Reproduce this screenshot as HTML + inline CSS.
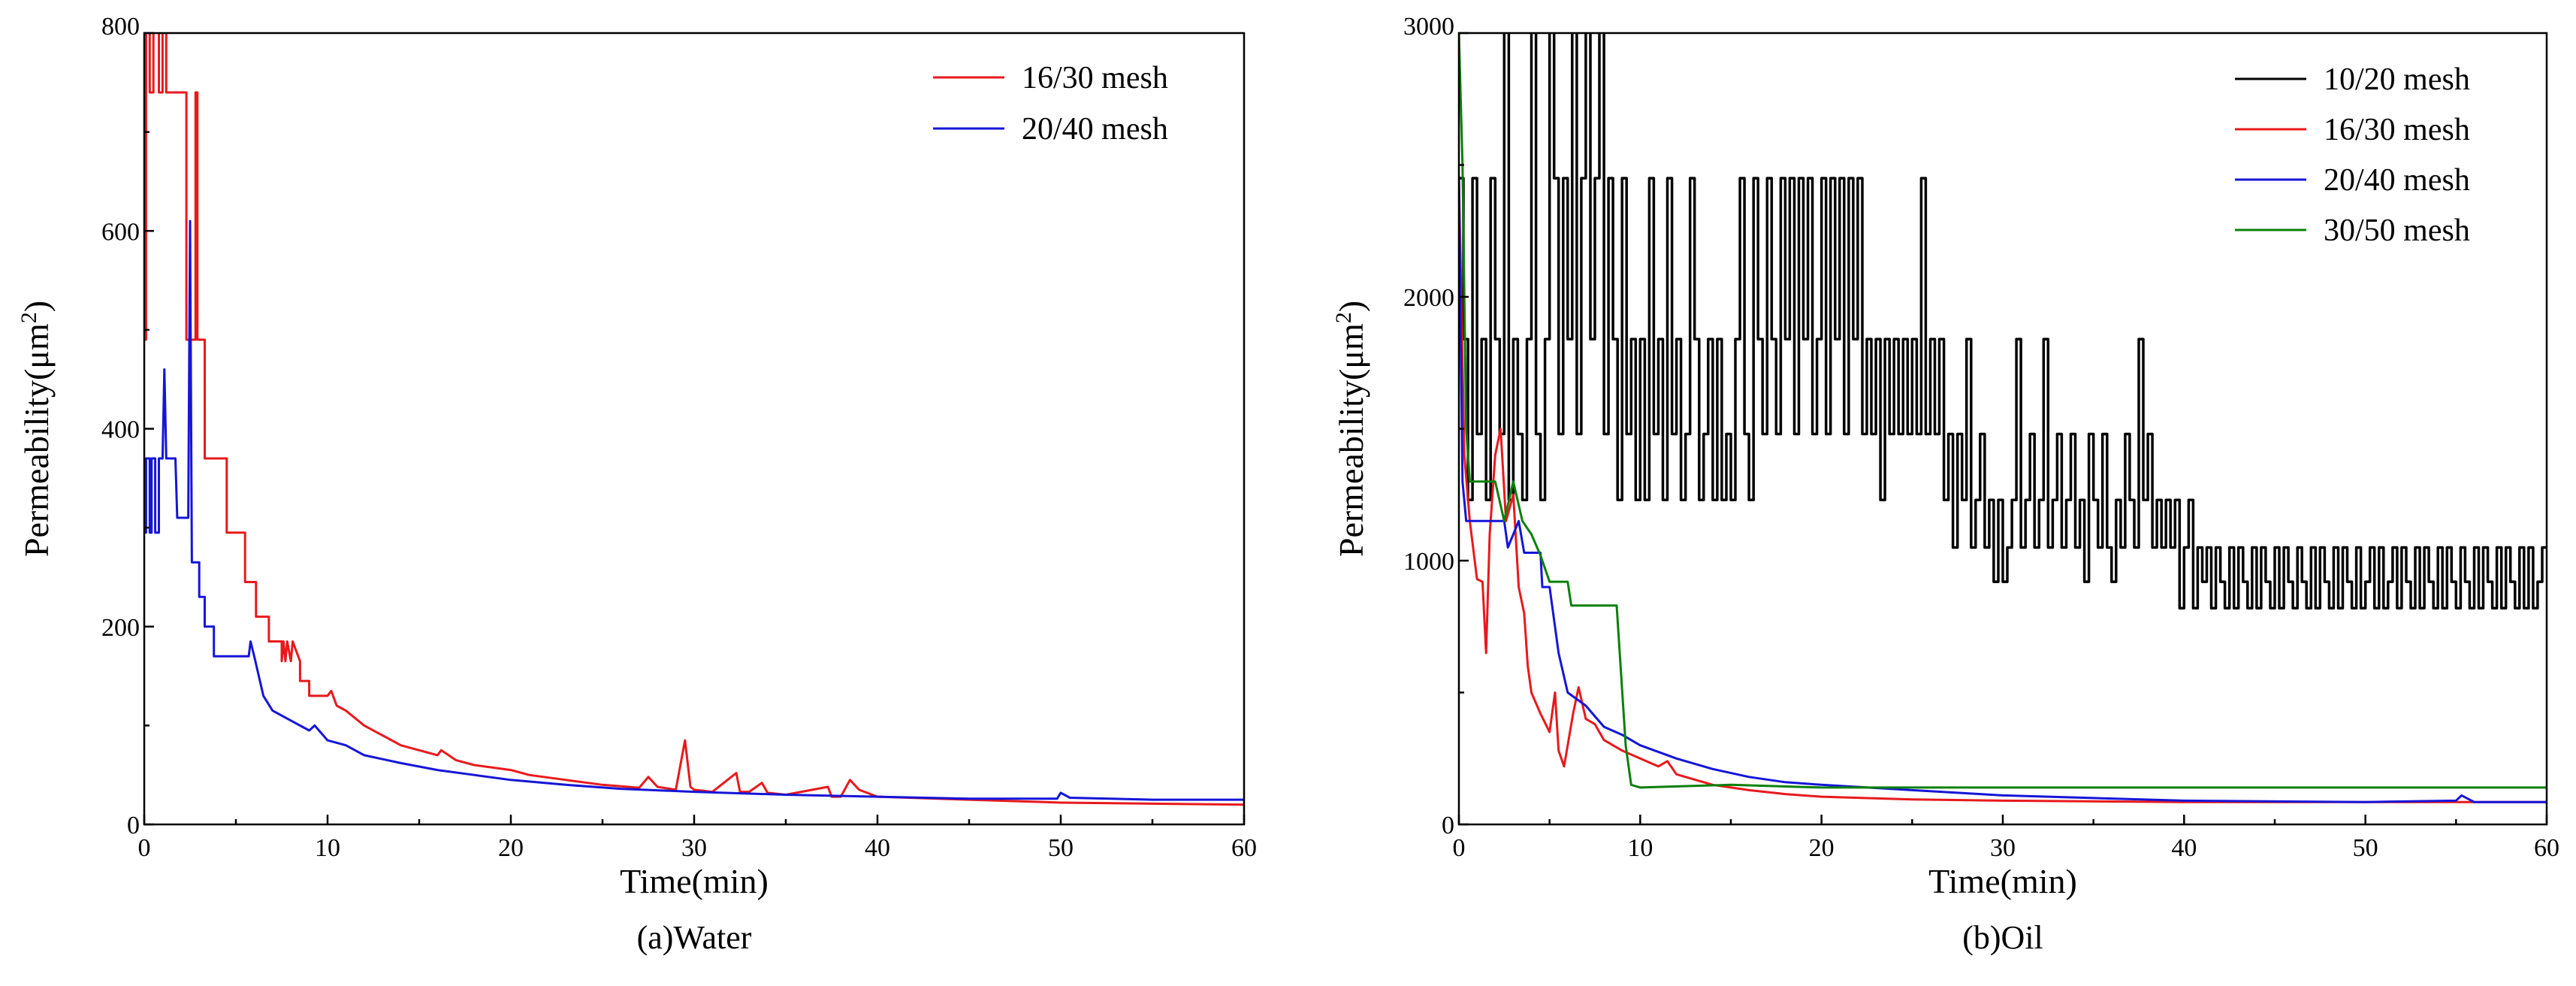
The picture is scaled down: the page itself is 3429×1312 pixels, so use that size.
<!DOCTYPE html>
<html><head><meta charset="utf-8"><style>
html,body{margin:0;padding:0;background:#fff;}
svg{display:block;font-family:"Liberation Serif",serif;}
</style></head>
<body>
<svg id="fig" width="3429" height="1312" viewBox="0 0 3429 1312" xmlns="http://www.w3.org/2000/svg">
<defs>
<clipPath id="clipA"><rect x="192" y="44" width="1464" height="1053"/></clipPath>
<clipPath id="clipB"><rect x="1942" y="44" width="1448" height="1053"/></clipPath>
</defs>
<g id="panelA"></g>
<g id="panelB"></g>
</svg>
<script>
// ---- Panel A (Water) data ----
const waterRedT = [0,0.1,0.1,0.3,0.3,0.5,0.5,0.8,0.8,1.0,1.0,1.2,1.2,2.3,2.3,2.8,2.8,2.9,2.9,3.3,3.3,4.5,4.5,5.5,5.5,6.1,6.1,6.8,6.8,7.5,7.5,7.6,7.7,7.8,8.0,8.1,8.5,8.5,9.0,9.0,10.0,10.2,10.5,11,12,13,14,15,16,16.2,17,18,20,21,23,25,27,27.5,28,29,29.5,29.8,30,31,32.3,32.5,33,33.7,34,35,37.3,37.5,38,38.5,39,40,45,50,55,60];
const waterRedV = [490,490,820,820,740,740,820,820,740,740,820,820,740,740,490,490,740,740,490,490,370,370,295,295,245,245,210,210,185,185,165,185,165,185,165,185,165,145,145,130,130,135,120,115,100,90,80,75,70,75,65,60,55,50,45,40,37,48,38,35,85,38,35,33,52,33,33,42,32,30,38,28,28,45,35,28,25,22,21,20];
const waterBlueT = [0,0.1,0.1,0.3,0.3,0.4,0.4,0.6,0.6,0.8,0.8,1.0,1.1,1.2,1.7,1.8,1.8,2.4,2.5,2.6,2.6,3.0,3.0,3.3,3.3,3.8,3.8,4.2,4.2,5.7,5.8,6.0,6.5,7,8,9,9.3,10,11,12,14,16,18,20,23,26,30,35,40,45,49.8,50,50.5,55,60];
const waterBlueV = [295,295,370,370,295,295,370,370,295,295,370,370,460,370,370,310,310,310,610,265,265,265,230,230,200,200,170,170,170,170,185,170,130,115,105,95,100,85,80,70,62,55,50,45,40,36,33,30,28,26,26,32,27,25,25];
const waterXTicks = [0,10,20,30,40,50,60];
const waterYTicks = [0,200,400,600,800];

// ---- Panel B (Oil) data ----
const oilBlack = [
2450,1840,1230,2450,1480,1840,1230,2450,1840,1480,3200,1230,1840,1480,1230,1840,3200,1480,1230,1840,
3200,2450,1480,2450,1840,3200,1480,2450,3200,1840,2450,3200,1480,2450,1840,1230,2450,1480,1840,1230,
1840,1230,2450,1480,1840,1230,2450,1480,1840,1230,1480,2450,1840,1230,1480,1840,1230,1840,1230,1480,
1230,1840,2450,1480,1230,2450,1840,1480,2450,1840,1480,2450,1840,2450,1480,2450,1840,2450,1480,1840,
2450,1480,2450,1840,2450,1480,2450,1840,2450,1480,1840,1480,1840,1230,1840,1480,1840,1480,1840,1480,
1840,1480,2450,1480,1840,1480,1840,1230,1480,1050,1480,1230,1840,1050,1230,1480,1050,1230,920,1230,
920,1050,1230,1840,1050,1230,1480,1050,1230,1840,1050,1230,1480,1050,1230,1480,1050,1230,920,1480,
1230,1050,1480,1050,920,1230,1050,1480,1230,1050,1840,1230,1480,1050,1230,1050,1230,1050,1230,820,
1050,1230,820,1050,920,1050,820,1050,920,820,1050,820,1050,920,820,1050,820,1050,920,820,
1050,820,1050,920,820,1050,920,820,1050,820,1050,920,820,1050,820,1050,920,820,1050,820,
920,1050,820,1050,820,920,1050,820,1050,920,820,1050,820,1050,920,820,1050,820,1050,920,
820,1050,920,820,1050,820,1050,920,820,1050,820,1050,920,820,1050,820,1050,820,920,1050,1050];
const oilBlackStep = 0.25;
const oilRedT = [0,0.3,0.6,1,1.3,1.5,1.7,2,2.3,2.6,3,3.3,3.6,3.8,4,4.5,5,5.3,5.5,5.8,6,6.3,6.6,7,7.5,8,8.5,9,10,11,11.5,12,13,14,16,18,20,25,30,40,50,60];
const oilRedV = [2450,1400,1150,930,920,650,1100,1400,1500,1150,1250,900,800,600,500,420,350,500,280,220,300,420,520,400,380,320,300,280,250,220,240,190,170,150,130,115,105,95,90,85,85,85];
const oilBlueT = [0,0.2,0.4,2.5,2.7,3.3,3.6,4.5,4.6,5,5.2,5.5,6,7,8,9,10,12,14,16,18,20,25,30,35,40,50,55,55.3,56,60];
const oilBlueV = [2450,1300,1150,1150,1050,1150,1030,1030,900,900,800,650,500,450,370,340,300,250,210,180,160,150,130,110,100,90,85,90,110,85,85];
const oilGreenT = [0,0.2,0.4,0.6,2,2.5,3,3.5,4,4.5,5,6,6.2,8.7,9.2,9.5,10,15,20,30,60];
const oilGreenV = [3000,2500,1500,1300,1300,1150,1300,1150,1100,1020,920,920,830,830,300,150,140,150,140,140,140];
const oilXTicks = [0,10,20,30,40,50,60];
const oilYTicks = [0,1000,2000,3000];

const NS = "http://www.w3.org/2000/svg";
function mk(tag, attrs, parent){const e=document.createElementNS(NS,tag);for(const k in attrs)e.setAttribute(k,attrs[k]);parent.appendChild(e);return e;}

function buildPanel(g, cfg){
  const sx = v => cfg.x0 + (v - 0) / 60 * (cfg.x1 - cfg.x0);
  const sy = v => cfg.yb - v / cfg.ymax * (cfg.yb - cfg.yt);
  const sg = mk('g', {'clip-path':'url(#'+cfg.clip+')'}, g);
  
  
  cfg.series.forEach(s => {
    let pts = [];
    if (s.step) {
      for (let i=0;i<s.v.length;i++){
        const t0=i*s.step, t1=(i+1)*s.step;
        pts.push(sx(Math.min(t0,60)).toFixed(1)+','+sy(s.v[i]).toFixed(1));
        pts.push(sx(Math.min(t1,60)).toFixed(1)+','+sy(s.v[i]).toFixed(1));
      }
    } else {
      for (let i=0;i<s.t.length;i++) pts.push(sx(s.t[i]).toFixed(1)+','+sy(s.v[i]).toFixed(1));
    }
    const p = mk('polyline', {points: pts.join(' '), fill:'none', stroke:s.color, 'stroke-width':s.w||3, 'stroke-linejoin':'round'}, sg);
    
    
  });
  const fr = mk('rect', {x:cfg.x0, y:cfg.yt, width:cfg.x1-cfg.x0, height:cfg.yb-cfg.yt, fill:'none', stroke:'#000', 'stroke-width':2.5}, g);
  
  
  cfg.xt.forEach((v,i) => {
    mk('line', {x1:sx(v), x2:sx(v), y1:cfg.yb, y2:cfg.yb-13, stroke:'#000','stroke-width':2.5}, g);
    if (i < cfg.xt.length-1) { const m=(v+cfg.xt[i+1])/2; mk('line', {x1:sx(m), x2:sx(m), y1:cfg.yb, y2:cfg.yb-7, stroke:'#000','stroke-width':2.5}, g); }
    const tx = mk('text', {x:sx(v), y:cfg.yb+42, 'font-size':34, 'text-anchor':'middle'}, g);
    tx.textContent = v;
    
    
  });
  cfg.yticks.forEach((v,i) => {
    mk('line', {x1:cfg.x0, x2:cfg.x0+13, y1:sy(v), y2:sy(v), stroke:'#000','stroke-width':2.5}, g);
    if (i < cfg.yticks.length-1) { const m=(v+cfg.yticks[i+1])/2; mk('line', {x1:cfg.x0, x2:cfg.x0+7, y1:sy(m), y2:sy(m), stroke:'#000','stroke-width':2.5}, g); }
    const ty = mk('text', {x:cfg.x0-6, y:sy(v)+(v===cfg.ymax?2:12), 'font-size':34, 'text-anchor':'end'}, g);
    ty.textContent = v;
    
    
  });
  const xt = mk('text', {x:(cfg.x0+cfg.x1)/2, y:1188, 'font-size':46, 'text-anchor':'middle'}, g);
  xt.textContent = 'Time(min)';
  
  
  const cap = mk('text', {x:(cfg.x0+cfg.x1)/2, y:1262, 'font-size':44, 'text-anchor':'middle'}, g);
  cap.textContent = cfg.caption;
  
  
  const yt = mk('text', {x:0, y:0, 'font-size':46, 'text-anchor':'middle', transform:'translate('+(cfg.x0-128)+','+((cfg.yt+cfg.yb)/2)+') rotate(-90)'}, g);
  yt.innerHTML = 'Permeability(μm<tspan baseline-shift="super" font-size="30">2</tspan>)';
  
  
  cfg.series.forEach((s,i) => {
    const y = cfg.legY + i*cfg.legDy;
    const lg = mk('g', {}, g);
    
    
    mk('line', {x1:cfg.legX, x2:cfg.legX+95, y1:y, y2:y, stroke:s.color, 'stroke-width':3}, lg);
    const lt = mk('text', {x:cfg.legX+118, y:y+14, 'font-size':42}, lg);
    lt.textContent = s.label;
  });
}

buildPanel(document.getElementById('panelA'), {
  prefix:'water', x0:192, x1:1656, yt:44, yb:1097, ymax:800, clip:'clipA',
  xt:waterXTicks, yticks:waterYTicks, caption:'(a)Water', legX:1242, legY:103, legDy:68,
  series:[
    {name:'water-16-30-mesh', label:'16/30 mesh', color:'#e8191c', t:waterRedT, v:waterRedV},
    {name:'water-20-40-mesh', label:'20/40 mesh', color:'#1515d8', t:waterBlueT, v:waterBlueV}
  ]
});
buildPanel(document.getElementById('panelB'), {
  prefix:'oil', x0:1942, x1:3390, yt:44, yb:1097, ymax:3000, clip:'clipB',
  xt:oilXTicks, yticks:oilYTicks, caption:'(b)Oil', legX:2975, legY:105, legDy:67,
  series:[
    {name:'oil-10-20-mesh', label:'10/20 mesh', color:'#000', step:oilBlackStep, v:oilBlack, w:3.5},
    {name:'oil-16-30-mesh', label:'16/30 mesh', color:'#e8191c', t:oilRedT, v:oilRedV},
    {name:'oil-20-40-mesh', label:'20/40 mesh', color:'#1515d8', t:oilBlueT, v:oilBlueV},
    {name:'oil-30-50-mesh', label:'30/50 mesh', color:'#0a800a', t:oilGreenT, v:oilGreenV}
  ]
});
</script>
</body></html>
